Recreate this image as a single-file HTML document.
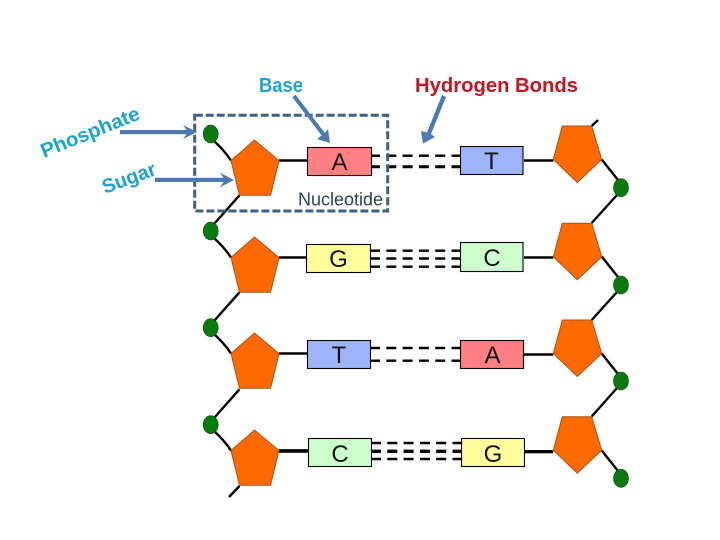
<!DOCTYPE html>
<html><head><meta charset="utf-8"><style>
html,body{margin:0;padding:0;background:#fff;width:720px;height:540px;overflow:hidden}
svg{display:block}
text{font-family:"Liberation Sans",sans-serif}
.t{font-weight:bold;font-size:20px}
.b{font-size:24px;text-anchor:middle;fill:#151515}
</style></head><body>
<svg width="720" height="540" viewBox="0 0 720 540" xmlns="http://www.w3.org/2000/svg">
<defs>
<polygon id="pl" points="254.5,140 279,160.5 270.5,195.3 239.5,195.3 231,160.5" fill="#ff6a00" stroke="#a8511a" stroke-width="1"/>
<polygon id="pr" points="562.3,126 591.7,126 601.7,159.5 577.3,182.5 553.3,159.5" fill="#ff6a00" stroke="#a8511a" stroke-width="1"/>
<g id="cl" stroke="#000" stroke-width="2.4" fill="none"><path d="M214 141Q224 150 231 160.5"/><line x1="279" y1="160.5" x2="308" y2="160.5"/></g>
<g id="cr" stroke="#000" stroke-width="2.4" fill="none"><line x1="601.7" y1="159.5" x2="618" y2="180"/><line x1="524" y1="160.5" x2="553.3" y2="160.5"/></g>
<ellipse id="gc" rx="7.5" ry="9" fill="#0a7a0f" stroke="#0a4a0c" stroke-width=".6"/>
</defs>

<!-- backbone links -->
<g stroke="#000" stroke-width="2.4" fill="none">
<line x1="239.5" y1="195.3" x2="214" y2="224"/>
<line x1="239.5" y1="292.3" x2="214" y2="321"/>
<line x1="239.5" y1="389.3" x2="214" y2="418"/>
<line x1="239.5" y1="486" x2="229" y2="497"/>
<line x1="591.7" y1="126" x2="598" y2="120"/>
<line x1="617" y1="195" x2="591.7" y2="223"/>
<line x1="617" y1="292" x2="591.7" y2="320"/>
<line x1="617" y1="388" x2="591.7" y2="416.5"/>
<line x1="279" y1="451" x2="308" y2="451" stroke-width="3.4"/>
<line x1="525" y1="451.7" x2="553" y2="451.7" stroke-width="3.4" stroke="#222"/>
</g>
<use href="#cl"/><use href="#cl" y="97"/><use href="#cl" y="193"/><use href="#cl" y="290"/>
<use href="#cr"/><use href="#cr" y="97"/><use href="#cr" y="194"/><use href="#cr" y="291"/>
<use href="#pl"/><use href="#pl" y="97"/><use href="#pl" y="193"/><use href="#pl" y="290"/>
<use href="#pr"/><use href="#pr" y="97.3"/><use href="#pr" y="194"/><use href="#pr" y="290.7"/>
<use href="#gc" x="210.7" y="134"/><use href="#gc" x="210.7" y="231"/><use href="#gc" x="210.7" y="327.7"/><use href="#gc" x="210.7" y="424.7"/>
<use href="#gc" x="621" y="187.7"/><use href="#gc" x="621" y="285"/><use href="#gc" x="621" y="381"/><use href="#gc" x="621" y="478.3"/>

<!-- hydrogen bonds -->
<g stroke="#000" fill="none" stroke-dasharray="10 6.3">
<path d="M370 155.7H460" stroke-width="2.4"/>
<path d="M370 166.7H460" stroke-width="3"/>
<path d="M370 250.7H460M370 258.5H460M370 266.7H460" stroke-width="2.4"/>
<path d="M370 348H460M370 360.7H460" stroke-width="2.4"/>
<path d="M371 443H461M371 459H461" stroke-width="2.4"/>
<path d="M371 451.3H461" stroke-width="3.4"/>
</g>

<!-- bases -->
<g stroke="#000" stroke-width="1.1">
<rect x="307.5" y="147.5" width="64" height="28" fill="#ff8083"/>
<rect x="306.5" y="244.5" width="64" height="28" fill="#ffff9e"/>
<rect x="307.5" y="340.5" width="63" height="28" fill="#9db5f8"/>
<rect x="308.5" y="438.5" width="63" height="28" fill="#ccffcc"/>
<rect x="460.5" y="146.5" width="62.5" height="28" fill="#9db5f8"/>
<rect x="460.5" y="242.5" width="62.5" height="29" fill="#ccffcc"/>
<rect x="460.5" y="340.5" width="63" height="28" fill="#ff8083"/>
<rect x="461.5" y="438.5" width="63" height="28" fill="#ffff9e"/>
</g>
<text class="b" x="339.5" y="170">A</text>
<text class="b" x="338.5" y="267">G</text>
<text class="b" x="339" y="363">T</text>
<text class="b" x="340" y="462">C</text>
<text class="b" x="491.5" y="169">T</text>
<text class="b" x="492" y="266">C</text>
<text class="b" x="492.5" y="363">A</text>
<text class="b" x="493" y="462">G</text>

<!-- nucleotide box -->
<rect x="194.7" y="115.3" width="193" height="95.7" fill="none" stroke="#3f5f86" stroke-width="3" stroke-dasharray="8 3"/>
<text x="298" y="205.5" font-size="18" fill="#2f3f58" textLength="85" lengthAdjust="spacingAndGlyphs">Nucleotide</text>

<!-- arrows -->
<g fill="#4a7ab0" stroke="none">
<rect x="120" y="130" width="70" height="4.2"/>
<polygon points="197,132 183,125 188,132 183,139"/>
<rect x="155" y="177.8" width="72" height="4.2"/>
<polygon points="234,180 220,172.7 225,180 220,187.3"/>
<polygon points="330,143 317,139 321.7,135.5 292.4,97.2 295.6,94.8 324.9,133 328,129"/>
<polygon points="442,95 446,97 431,134 435,137 423,143.5 421,131 427,132.5"/>
</g>

<!-- labels -->
<text class="t" x="259" y="92" fill="#1ba3d6" textLength="44" lengthAdjust="spacingAndGlyphs">Base</text>
<text class="t" x="415" y="92" fill="#c8141e" textLength="163" lengthAdjust="spacingAndGlyphs">Hydrogen Bonds</text>
<text class="t" transform="translate(44,158) rotate(-22)" fill="#1ba3d6" textLength="105" lengthAdjust="spacingAndGlyphs">Phosphate</text>
<text class="t" transform="translate(105,194) rotate(-20.5)" fill="#1ba3d6" textLength="56" lengthAdjust="spacingAndGlyphs">Sugar</text>
</svg>
</body></html>
